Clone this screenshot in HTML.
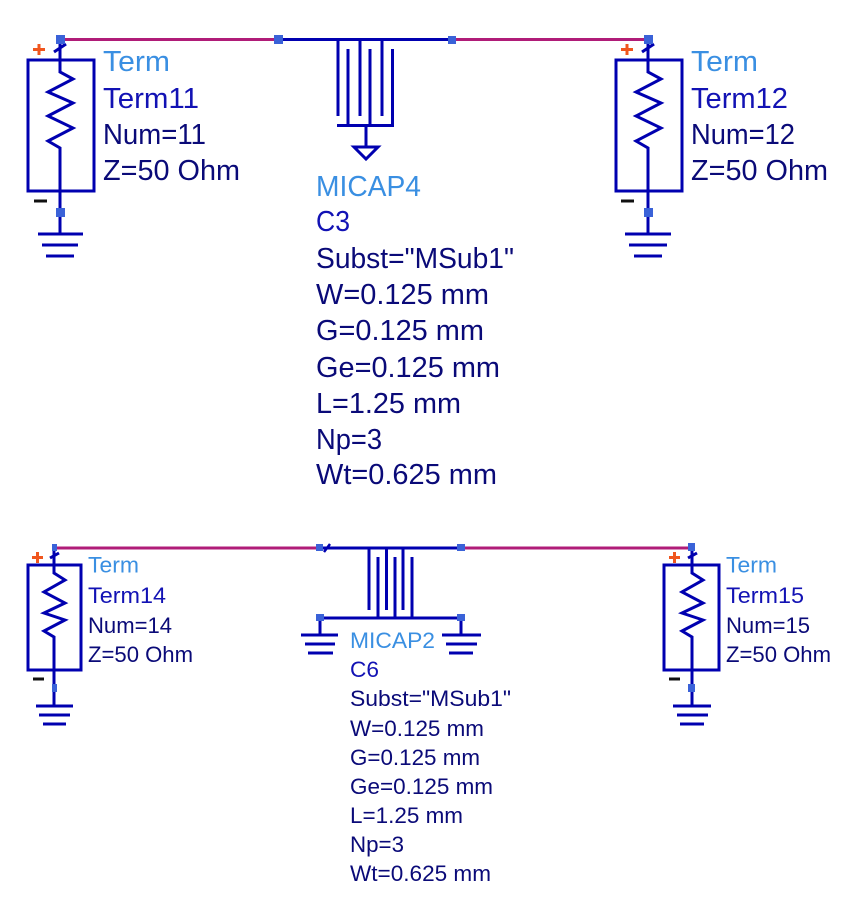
<!DOCTYPE html>
<html>
<head>
<meta charset="utf-8">
<style>
html,body{margin:0;padding:0;background:#fff;width:850px;height:909px;overflow:hidden}
svg{display:block}
text{font-family:"Liberation Sans",sans-serif}
.t1 text{font-size:28.5px}
.t2 text{font-size:22px}
.c{fill:#3a8fe2}
.n{fill:#1212b4}
.p{fill:#0a0a78}
.w{stroke:#0000b0;fill:none;stroke-linejoin:miter}
.m{stroke:#b01c78;fill:none}
.s{fill:#3a62d8}
</style>
</head>
<body>
<svg width="850" height="909" viewBox="0 0 850 909" xmlns="http://www.w3.org/2000/svg">
<rect width="850" height="909" fill="#fff"/>

<!-- wires magenta -->
<g class="m" stroke-width="3">
<path d="M60 39.5H278M452 39.5H648"/>
<path d="M54 548H320M461 548H692"/>
</g>

<!-- Top terminals -->
<g class="w" stroke-width="3">
<rect x="28" y="60" width="66" height="131"/>
<path d="M60 39V72L73 79L48 92L73 103L48 116L73 128L48 141L60 148V234"/>
<path d="M54 52L66 44"/>
<path d="M38 234H83M42 245H78M46 256H74"/>
<rect x="616" y="60" width="66" height="131"/>
<path d="M648 39V72L661 79L636 92L661 103L636 116L661 128L636 141L648 148V234"/>
<path d="M642 52L654 44"/>
<path d="M625 234H671M629 245H667M634 256H662"/>
</g>
<rect x="56" y="35" width="9" height="9" class="s"/>
<rect x="56" y="208" width="9" height="9" class="s"/>
<rect x="644" y="35" width="9" height="9" class="s"/>
<rect x="644" y="208" width="9" height="9" class="s"/>
<path d="M33 49.5H45M39 44V55" stroke="#f0561e" stroke-width="3"/>
<path d="M621 49.5H633M627 44V55" stroke="#f0561e" stroke-width="3"/>
<path d="M34 201H47M621 201H634" stroke="#111" stroke-width="3"/>

<!-- MICAP4 -->
<g class="w" stroke-width="3">
<path d="M278 39.5H452"/>
<path d="M338 39V116M360 39V116M382 39V116"/>
<path d="M348 49V125M370 49V125M392.500 49V125"/>
<path d="M337 125.500H394"/>
<path d="M366 125V147"/>
<path d="M354 147H378L366 159Z"/>
</g>
<rect x="274" y="35" width="9" height="9" class="s"/>
<rect x="448" y="36" width="8" height="8" class="s"/>

<!-- Bottom terminals -->
<g class="w" stroke-width="3">
<rect x="28" y="565" width="53" height="105"/>
<path d="M54 548V573L65 580L44 592L65 603L44 613L65 620L44 631L54 637V706"/>
<path d="M50 558L59 553"/>
<path d="M36 706H73M39 715H70M43 724H66"/>
<rect x="664" y="565" width="55" height="105"/>
<path d="M692 548V573L703 580L682 592L703 603L682 613L703 620L682 631L692 637V706"/>
<path d="M688 558L697 553"/>
<path d="M673 706H711M677 715H708M680 724H704"/>
</g>
<rect x="52" y="544" width="5" height="7" class="s"/>
<rect x="52" y="684" width="5" height="8" class="s"/>
<rect x="688" y="543" width="7" height="8" class="s"/>
<rect x="688" y="684" width="7" height="8" class="s"/>
<path d="M32 557.500H43M37.500 552V563" stroke="#f0561e" stroke-width="3"/>
<path d="M669 557.500H680M674.500 552V563" stroke="#f0561e" stroke-width="3"/>
<path d="M33 679H44M669 679H680" stroke="#111" stroke-width="3"/>

<!-- MICAP2 -->
<g class="w" stroke-width="3">
<path d="M320 548H461"/>
<path d="M369 548V610M386.500 548V610M403 548V610"/>
<path d="M378 557V618M395 557V618M412 557V618"/>
<path d="M320 618H461"/>
<path d="M320 618V635M461 618V635"/>
<path d="M301 635H338M305 644H335M308 653H333"/>
<path d="M442 635H481M446 644H477M449 653H473"/>
<path d="M324 552L330 544" stroke-width="2.500"/>
</g>
<rect x="316" y="544" width="7" height="7" class="s"/>
<rect x="457" y="544" width="8" height="7" class="s"/>
<rect x="316" y="614" width="8" height="7" class="s"/>
<rect x="457" y="614" width="8" height="7" class="s"/>

<!-- Top labels -->
<g class="t1">
<text x="103" y="71" class="c" textLength="67" lengthAdjust="spacingAndGlyphs">Term</text>
<text x="103" y="108" class="n" textLength="96" lengthAdjust="spacingAndGlyphs">Term11</text>
<text x="103" y="144" class="p" textLength="103" lengthAdjust="spacingAndGlyphs">Num=11</text>
<text x="103" y="180" class="p" textLength="137" lengthAdjust="spacingAndGlyphs">Z=50 Ohm</text>

<text x="691" y="71" class="c" textLength="67" lengthAdjust="spacingAndGlyphs">Term</text>
<text x="691" y="108" class="n" textLength="97" lengthAdjust="spacingAndGlyphs">Term12</text>
<text x="691" y="144" class="p" textLength="104" lengthAdjust="spacingAndGlyphs">Num=12</text>
<text x="691" y="180" class="p" textLength="137" lengthAdjust="spacingAndGlyphs">Z=50 Ohm</text>

<text x="316" y="196" class="c" textLength="105" lengthAdjust="spacingAndGlyphs">MICAP4</text>
<text x="316" y="231" class="n" textLength="34" lengthAdjust="spacingAndGlyphs">C3</text>
<text x="316" y="268" class="p" textLength="198" lengthAdjust="spacingAndGlyphs">Subst="MSub1"</text>
<text x="316" y="304" class="p" textLength="173" lengthAdjust="spacingAndGlyphs">W=0.125 mm</text>
<text x="316" y="340" class="p" textLength="168" lengthAdjust="spacingAndGlyphs">G=0.125 mm</text>
<text x="316" y="377" class="p" textLength="184" lengthAdjust="spacingAndGlyphs">Ge=0.125 mm</text>
<text x="316" y="413" class="p" textLength="145" lengthAdjust="spacingAndGlyphs">L=1.25 mm</text>
<text x="316" y="449" class="p" textLength="66" lengthAdjust="spacingAndGlyphs">Np=3</text>
<text x="316" y="484" class="p" textLength="181" lengthAdjust="spacingAndGlyphs">Wt=0.625 mm</text>
</g>

<!-- Bottom labels -->
<g class="t2">
<text x="88" y="572.500" class="c" textLength="51" lengthAdjust="spacingAndGlyphs">Term</text>
<text x="88" y="603" class="n" textLength="78" lengthAdjust="spacingAndGlyphs">Term14</text>
<text x="88" y="633" class="p" textLength="84" lengthAdjust="spacingAndGlyphs">Num=14</text>
<text x="88" y="662" class="p" textLength="105" lengthAdjust="spacingAndGlyphs">Z=50 Ohm</text>

<text x="726" y="572.500" class="c" textLength="51" lengthAdjust="spacingAndGlyphs">Term</text>
<text x="726" y="603" class="n" textLength="78" lengthAdjust="spacingAndGlyphs">Term15</text>
<text x="726" y="633" class="p" textLength="84" lengthAdjust="spacingAndGlyphs">Num=15</text>
<text x="726" y="662" class="p" textLength="105" lengthAdjust="spacingAndGlyphs">Z=50 Ohm</text>

<text x="350" y="648" class="c" textLength="85" lengthAdjust="spacingAndGlyphs">MICAP2</text>
<text x="350" y="677" class="n" textLength="29" lengthAdjust="spacingAndGlyphs">C6</text>
<text x="350" y="706" class="p" textLength="161" lengthAdjust="spacingAndGlyphs">Subst="MSub1"</text>
<text x="350" y="736" class="p" textLength="134" lengthAdjust="spacingAndGlyphs">W=0.125 mm</text>
<text x="350" y="765" class="p" textLength="130" lengthAdjust="spacingAndGlyphs">G=0.125 mm</text>
<text x="350" y="794" class="p" textLength="143" lengthAdjust="spacingAndGlyphs">Ge=0.125 mm</text>
<text x="350" y="823" class="p" textLength="113" lengthAdjust="spacingAndGlyphs">L=1.25 mm</text>
<text x="350" y="852" class="p" textLength="54" lengthAdjust="spacingAndGlyphs">Np=3</text>
<text x="350" y="881" class="p" textLength="141" lengthAdjust="spacingAndGlyphs">Wt=0.625 mm</text>
</g>
</svg>
</body>
</html>
